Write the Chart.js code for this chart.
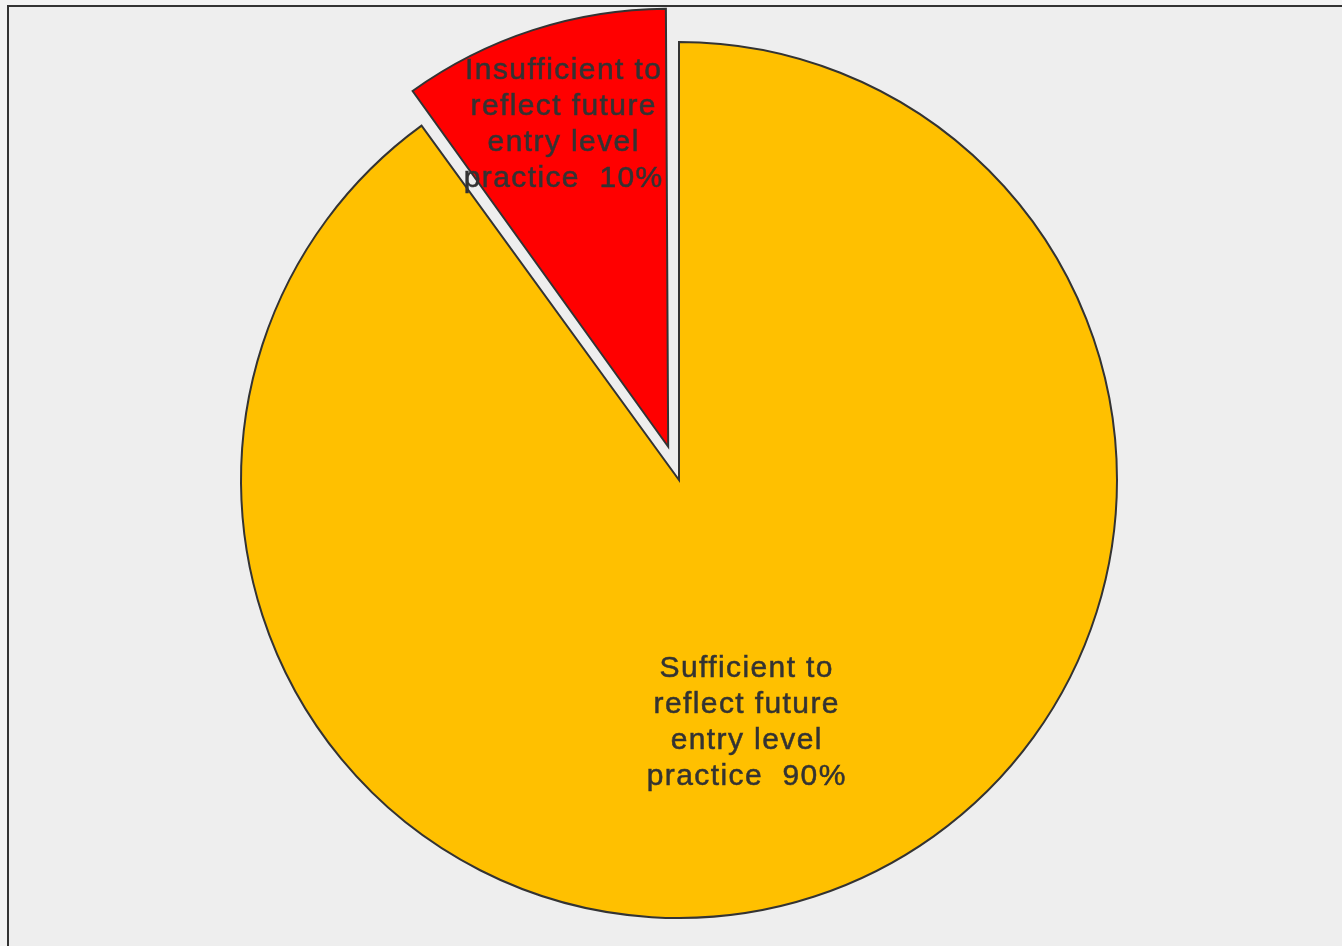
<!DOCTYPE html>
<html>
<head>
<meta charset="utf-8">
<script src="https://cdn.jsdelivr.net/npm/chart.js@4/dist/chart.umd.min.js"></script>
<style>
    html, body { margin: 0; padding: 0; background: #f3f3f3; overflow: hidden; }
    #frame {
        position: absolute; left: 7px; top: 5px; width: 1400px; height: 1000px;
        background: #eeeeee; border-left: 2px solid #333; border-top: 2px solid #333;
    }
    #chart { position: absolute; left: 0; top: 0; }
</style>
</head>
<body>
<div id="frame"></div>
<canvas id="chart" width="1342" height="946"></canvas>
<script>
// data
const categories = ["Insufficient to reflect future entry level practice", "Sufficient to reflect future entry level practice"];
const labelLines = [
    ["Insufficient to", "reflect future", "entry level", "practice  10%"],
    ["Sufficient to", "reflect future", "entry level", "practice  90%"],
];
const shares = [10, 90];
const sliceColors = ["#ff0000", "#ffc000"];

/**
 * Keeps an exploded slice at the same radius as the others
 * (chart.js grows the radius of offset arcs a bit)
 */
const keepRadius = {
    id: "keepRadius",
    afterDatasetUpdate(chart, args) {
        args.meta.data.forEach((arc) => {
            const offset = (arc.options.offset || 0) / 4;
            const fix = 1 - Math.sin(Math.min(Math.PI, arc.circumference || 0));
            arc.outerRadius = arc.outerRadius - offset * fix;
        });
    },
};

/**
 * Draws the multi-line text labels inside each slice
 */
const sliceLabels = {
    id: "sliceLabels",
    afterDatasetsDraw(chart, args, opts) {
        const ctx = chart.ctx;
        const arcs = chart.getDatasetMeta(0).data;
        ctx.save();
        ctx.font = opts.font;
        ctx.letterSpacing = opts.letterSpacing;
        ctx.fillStyle = opts.color;
        ctx.strokeStyle = opts.color;
        ctx.lineWidth = 0.5;
        ctx.textAlign = "center";
        ctx.textBaseline = "middle";
        arcs.forEach((arc, i) => {
            const p = arc.getProps(["x", "y", "startAngle", "endAngle"], true);
            const mid = (p.startAngle + p.endAngle) / 2 + opts.turn[i] * Math.PI / 180;
            const r = 438 * opts.radial[i];
            const cx = p.x + Math.cos(mid) * r;
            const cy = p.y + Math.sin(mid) * r;
            const lines = labelLines[i];
            const top = cy - (lines.length - 1) * opts.lineHeight / 2;
            lines.forEach((line, j) => {
                ctx.fillText(line, cx, top + j * opts.lineHeight);
                ctx.strokeText(line, cx, top + j * opts.lineHeight);
            });
        });
        ctx.restore();
    },
};

const element = document.getElementById("chart");

new Chart(element, {
    type: "pie",
    data: {
        labels: categories,
        datasets: [
            {
                data: shares,
                backgroundColor: sliceColors,
                borderColor: "#333333",
                borderWidth: 2,
                borderJoinStyle: "miter",
                offset: [140, 0],
            },
        ],
    },
    options: {
        responsive: false,
        animation: false,
        rotation: -36,
        radius: 438,
        layout: {
            padding: { left: 16, top: 14, right: 0, bottom: 0 },
        },
        plugins: {
            legend: { display: false },
            tooltip: { enabled: false },
            sliceLabels: {
                font: "30px 'Liberation Sans', Arial, sans-serif",
                letterSpacing: "1.4px",
                color: "#333333",
                lineHeight: 36,
                radial: [0.852, 0.575],
                turn: [0, 2.4],
            },
        },
    },
    plugins: [keepRadius, sliceLabels],
});
</script>
</body>
</html>
